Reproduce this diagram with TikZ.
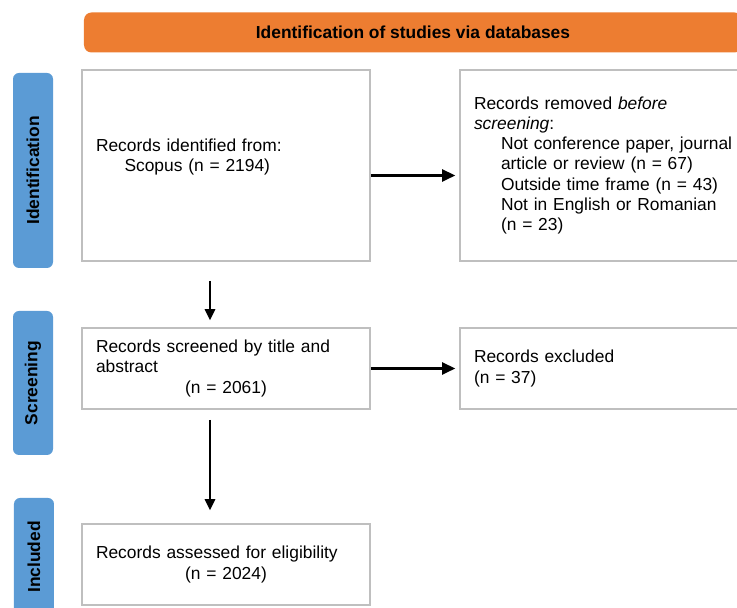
\documentclass[tikz,border=0pt]{standalone}
\usepackage{fontspec}
\setmainfont{Liberation Sans}
\usetikzlibrary{arrows.meta}
\definecolor{bannerOrange}{HTML}{ED7D31}
\definecolor{phaseBlue}{HTML}{5B9BD5}
\definecolor{boxGray}{HTML}{BFBFBF}

\begin{document}
\begin{tikzpicture}[
    font=\fontsize{9.9}{11.4}\selectfont,
    banner/.style={rectangle, rounded corners=0.15cm, minimum width=13.16cm, minimum height=0.8cm, text centered, fill=bannerOrange, font=\fontsize{9.9}{11.4}\selectfont\bfseries},
    phase/.style={rectangle, rounded corners=0.12cm, minimum height=0.8cm, text centered, fill=phaseBlue, rotate=90, font=\fontsize{9.9}{11.4}\selectfont\bfseries},
    record/.style={rectangle, text width=5.2cm, inner xsep=0.28cm, align=left, draw=boxGray, line width=0.9pt},
    arrow/.style={line width=1.4pt, -{Triangle[length=0.26cm, width=0.24cm]}},
    downArrow/.style={line width=0.95pt, -{Triangle[length=0.22cm, width=0.21cm]}}
]
\clip (0,0) rectangle (14.74,-12.16);
\useasboundingbox (0,0) rectangle (14.74,-12.16);

% Header
\node[banner] (header) at (8.26,-0.65) {Identification of studies via databases};

% Phase labels
\node[phase, minimum width=3.9cm] (identPhase) at (0.66,-3.41) {Identification};
\node[phase, minimum width=2.88cm] (screenPhase) at (0.66,-7.66) {Screening};
\node[phase, minimum width=2.36cm] (inclPhase) at (0.68,-11.14) {Included};

% Record boxes
\node[record, minimum height=3.82cm] (ident) at (4.52,-3.31) {Records identified from:\\\hspace*{0.57cm}Scopus (n = 2194)\\\mbox{}};
\node[record, text width=5.5cm, minimum height=3.82cm] (removed) at (12.23,-3.31) {Records removed \textit{before}\\\textit{screening}:\\\hspace*{0.54cm}Not conference paper, journal\\\hspace*{0.54cm}article or review (n = 67)\\\hspace*{0.54cm}Outside time frame (n = 43)\\\hspace*{0.54cm}Not in English or Romanian\\\hspace*{0.54cm}(n = 23)};
\node[record, minimum height=1.62cm] (screened) at (4.52,-7.37) {Records screened by title and\\abstract\\\makebox[5.2cm]{(n = 2061)}};
\node[record, text width=5.5cm, minimum height=1.62cm] (excluded) at (12.23,-7.37) {Records excluded\\(n = 37)};
\node[record, minimum height=1.62cm] (assessed) at (4.52,-11.29) {Records assessed for eligibility\\\makebox[5.2cm]{(n = 2024)}};

% Arrows
\draw[arrow, shorten >=0.08cm] ([yshift=-0.2cm]ident.east) -- ([yshift=-0.2cm]removed.west);
\draw[arrow, shorten >=0.08cm] (screened.east) -- (excluded.west);
\draw[downArrow, shorten <=0.38cm, shorten >=0.14cm] ([xshift=-0.32cm]ident.south) -- ([xshift=-0.32cm]screened.north);
\draw[downArrow, shorten <=0.2cm, shorten >=0.26cm] ([xshift=-0.32cm]screened.south) -- ([xshift=-0.32cm]assessed.north);

\end{tikzpicture}
\end{document}
